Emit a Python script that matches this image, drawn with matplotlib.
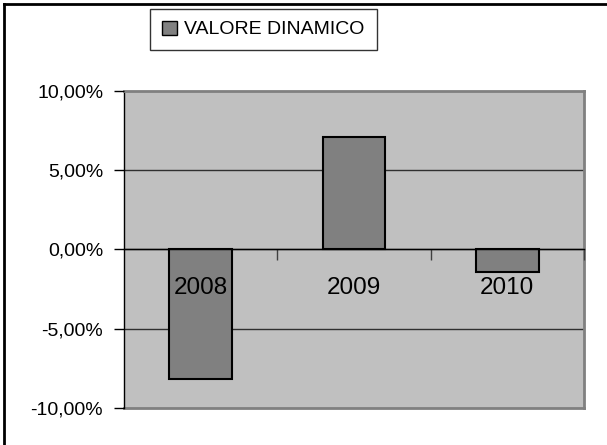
import matplotlib
matplotlib.use("Agg")
import matplotlib.pyplot as plt
from matplotlib.patches import Patch
from matplotlib.lines import Line2D
from matplotlib.ticker import FuncFormatter

categories = ["2008", "2009", "2010"]
values = [-8.2, 7.1, -1.4]
yticks = [-10, -5, 0, 5, 10]
series_name = "VALORE DINAMICO"

plt.rcParams['font.family'] = ['Liberation Sans', 'DejaVu Sans']

W, H = 607, 445
fig = plt.figure(figsize=(W / 100, H / 100), dpi=100)
fig.patch.set_facecolor("white")

ax = fig.add_axes([124 / W, 1 - 408 / H, 460 / W, 317 / H])
ax.set_facecolor("#C0C0C0")

x = list(range(len(categories)))
ax.bar(x, values, width=0.41, color="#808080", edgecolor="black", linewidth=1.5, zorder=3)

ax.set_xlim(-0.5, len(categories) - 0.5)
ax.set_ylim(yticks[0], yticks[-1])
ax.set_yticks(yticks)
ax.yaxis.set_major_formatter(FuncFormatter(lambda v, p: f"{v:.2f}".replace(".", ",") + "%"))
ax.tick_params(axis="y", direction="out", length=7, width=1, labelsize=14, pad=8, color="black")

for yv in yticks[1:-1]:
    ax.axhline(yv, color="#303030", linewidth=1, zorder=1)

# category axis at zero
ax.spines["bottom"].set_position(("data", 0))
ax.spines["bottom"].set_color("black")
ax.spines["bottom"].set_linewidth(1)
ax.spines["bottom"].set_zorder(4)
ax.set_xticks([i + 0.5 for i in x])
ax.set_xticklabels([])
ax.tick_params(axis="x", which="major", direction="out", length=8, width=1, color="#404040")

for i, c in zip(x, categories):
    ax.annotate(c, xy=(i, 0), xytext=(0, -28), textcoords="offset pixels",
                ha="center", va="top", fontsize=17.5, zorder=10, annotation_clip=False)

ax.spines["left"].set_color("black")
ax.spines["left"].set_linewidth(1)
for s in ["top", "right"]:
    ax.spines[s].set_color("#808080")
    ax.spines[s].set_linewidth(2)

# bottom gray border of plot area
ax.add_line(Line2D([0, 1], [0, 0], transform=ax.transAxes, color="#808080", linewidth=2, clip_on=False, zorder=2))
ax.set_axisbelow(False)

# legend
handle = Patch(facecolor="#808080", edgecolor="black", linewidth=1)
leg = fig.legend([handle], [series_name], loc="center", bbox_to_anchor=((153 + 374) / 2 / W, 1 - 29.5 / H),
                 fontsize=14, frameon=True, fancybox=False, shadow=False, handlelength=0.75, handleheight=0.75,
                 handletextpad=0.4, borderpad=0.6, borderaxespad=0)
leg.get_frame().set_edgecolor("black")
leg.get_frame().set_linewidth(1)

# figure border (left & top)
fig.add_artist(Line2D([4 / W, 4 / W], [0, 1 - 4 / H], transform=fig.transFigure, color="black", linewidth=2))
fig.add_artist(Line2D([4 / W, 1], [1 - 4 / H, 1 - 4 / H], transform=fig.transFigure, color="black", linewidth=2))

fig.savefig("out.png", dpi=100)
